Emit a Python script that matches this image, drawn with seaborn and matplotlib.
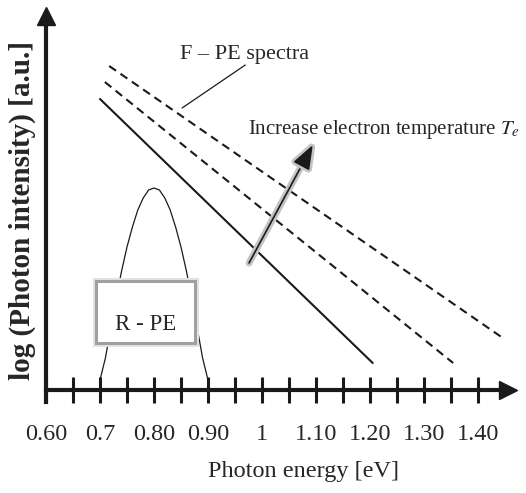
import matplotlib
matplotlib.use("Agg")
import matplotlib.pyplot as plt
import matplotlib.patheffects as pe
from matplotlib.patches import Rectangle
import seaborn as sns

# tick positions / labels on the energy axis
energy_ticks = [0.60, 0.70, 0.80, 0.90, 1.00, 1.10, 1.20, 1.30, 1.40]
energy_labels = ["0.60", "0.7", "0.80", "0.90", "1", "1.10", "1.20", "1.30", "1.40"]
minor_ticks = [0.65, 0.75, 0.85, 0.95, 1.05, 1.15, 1.25, 1.35]

# R-PE peak
rpe_energy = [0.70, 0.71, 0.72, 0.73, 0.74, 0.75, 0.76, 0.77, 0.78, 0.79, 0.80,
              0.81, 0.82, 0.83, 0.84, 0.85, 0.86, 0.87, 0.88, 0.89, 0.90]
rpe_level = [0.10, 0.32, 0.62, 0.92, 1.19, 1.43, 1.63, 1.80, 1.92, 2.00, 2.02,
             2.00, 1.92, 1.80, 1.63, 1.43, 1.19, 0.92, 0.62, 0.32, 0.10]

# F-PE spectra, lowest temperature first
fpe_low_x = [0.700, 1.205]
fpe_low_y = [2.91, 0.27]
fpe_mid_x = [0.709, 1.354]
fpe_mid_y = [3.08, 0.27]
fpe_high_x = [0.717, 1.446]
fpe_high_y = [3.24, 0.52]

sns.set_theme(style="white")
plt.rcParams["font.family"] = ["Liberation Serif", "DejaVu Serif"]
plt.rcParams["mathtext.fontset"] = "stix"

fig = plt.figure(figsize=(5.26, 4.93), dpi=100)
ax = fig.add_axes([0, 0, 1, 1])
ax.set_xlim(0.6 - 46 / 540, 0.6 + 480 / 540)
ax.set_ylim(-1.03, 3.90)

# spectra
sns.lineplot(x=fpe_low_x, y=fpe_low_y, ax=ax, color="k", lw=1.5)
sns.lineplot(x=fpe_mid_x, y=fpe_mid_y, ax=ax, color="k", lw=1.5, linestyle=(0, (4, 2.6)))
sns.lineplot(x=fpe_high_x, y=fpe_high_y, ax=ax, color="k", lw=1.5, linestyle=(0, (4, 2.6)))
sns.lineplot(x=rpe_energy, y=rpe_level, ax=ax, color="k", lw=0.9)

# R-PE label box
box = Rectangle((0.6926, 0.47), 0.1834, 0.62, facecolor="white",
                edgecolor="#a0a0a0", lw=2.2, zorder=5)
box.set_path_effects([pe.Stroke(linewidth=5, foreground="#e2e2e2"), pe.Normal()])
ax.add_patch(box)
ax.text(0.7852, 0.66, "R - PE", ha="center", va="center", fontsize=16.5, zorder=6)

# F-PE leader line + label
ax.plot([0.852, 0.969], [2.82, 3.25], color="k", lw=0.9)
ax.text(0.967, 3.35, "F \u2013 PE spectra", ha="center", va="center", fontsize=16)

# temperature arrow
ann = ax.annotate("", xy=(1.094, 2.45), xytext=(0.976, 1.27),
                  arrowprops=dict(arrowstyle="-|>,head_length=0.75,head_width=0.28",
                                  color="k", lw=1.2, mutation_scale=20,
                                  shrinkA=0, shrinkB=0))
ann.arrow_patch.set_path_effects([pe.Stroke(linewidth=5, foreground="#c4c4c4"), pe.Normal()])
ann.arrow_patch.set_zorder(6)
ax.text(1.225, 2.60, "Increase electron temperature $T_e$", ha="center",
        va="center", fontsize=15)

# axes with arrows
for s in ["top", "right"]:
    ax.spines[s].set_visible(False)
ax.spines["left"].set_position(("data", 0.6))
ax.spines["bottom"].set_position(("data", 0))
ax.spines["left"].set_bounds(-0.12, 3.72)
ax.spines["bottom"].set_bounds(0.6, 1.452)
ax.spines["left"].set_linewidth(3)
ax.spines["bottom"].set_linewidth(3)
ax.spines["left"].set_color("k")
ax.spines["bottom"].set_color("k")
ax.plot(1.4556, 0, ">", color="k", ms=13, clip_on=False)
ax.plot(0.6, 3.74, "^", color="k", ms=13, clip_on=False)

ax.set_xticks(energy_ticks)
ax.set_xticklabels(energy_labels)
ax.set_xticks(minor_ticks, minor=True)
ax.tick_params(axis="x", which="both", direction="inout", length=19, width=2.2,
               color="k", bottom=True, labelsize=17.5, pad=15)
ax.set_yticks([])

ax.text(0.6 + (303 - 46) / 540, 3.90 - 472 / 100, "Photon energy [eV]",
        ha="center", va="center", fontsize=17.5)
ax.text(0.6 - 24 / 540, 3.90 - 210 / 100, "log (Photon intensity) [a.u.]",
        ha="center", va="center", rotation=90, fontsize=21, fontweight="bold")

fig.savefig("out.png", dpi=100)
